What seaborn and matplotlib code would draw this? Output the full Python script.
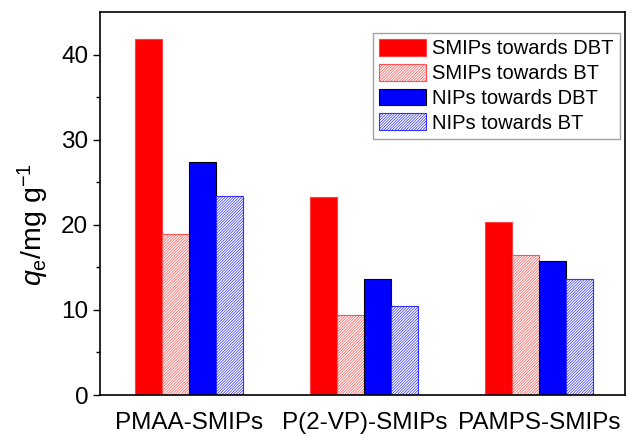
import matplotlib
matplotlib.use("Agg")
import matplotlib.pyplot as plt
import seaborn as sns
import pandas as pd
from matplotlib.patches import Patch

categories = ["PMAA-SMIPs", "P(2-VP)-SMIPs", "PAMPS-SMIPs"]
series_names = ["SMIPs towards DBT", "SMIPs towards BT", "NIPs towards DBT", "NIPs towards BT"]
smips_dbt = [41.8, 23.3, 20.3]
smips_bt = [18.9, 9.4, 16.5]
nips_dbt = [27.4, 13.6, 15.8]
nips_bt = [23.4, 10.4, 13.6]
y_ticks = [0, 10, 20, 30, 40]

rows = []
for name, vals in zip(series_names, [smips_dbt, smips_bt, nips_dbt, nips_bt]):
    for c, v in zip(categories, vals):
        rows.append({"cat": c, "series": name, "val": v})
df = pd.DataFrame(rows)

sns.set_theme(style="ticks")
plt.rcParams["font.family"] = ["Liberation Sans", "DejaVu Sans"]
plt.rcParams["mathtext.fontset"] = "custom"
plt.rcParams["mathtext.rm"] = "Liberation Sans"
plt.rcParams["mathtext.it"] = "Liberation Sans:italic"
plt.rcParams["hatch.linewidth"] = 0.5
plt.rcParams["text.color"] = "black"
plt.rcParams["axes.labelcolor"] = "black"
plt.rcParams["xtick.color"] = "black"
plt.rcParams["ytick.color"] = "black"

fig = plt.figure(figsize=(6.32, 4.36), dpi=100)
ax = fig.add_axes([100/632, 1-395/436, 525/632, 383/436])

styles = [
    dict(face="#ff0000", edge="#ff4040", hatch=None),
    dict(face="white", edge="#ff5050", hatch="/" * 12),
    dict(face="#0000ff", edge="black", hatch=None),
    dict(face="white", edge="#3030ff", hatch="/" * 12),
]

sns.barplot(data=df, x="cat", y="val", hue="series", order=categories,
            hue_order=series_names, width=0.617, ax=ax, legend=False,
            errorbar=None, saturation=1, gap=0)

for cont, st in zip(ax.containers, styles):
    for p in cont:
        p.set_facecolor(st["face"])
        p.set_edgecolor(st["edge"])
        p.set_linewidth(0.8)
        if st["hatch"]:
            p.set_hatch(st["hatch"])

ax.set_xlim(-0.51, 2.49)
ax.set_ylim(0, 45)
ax.set_yticks(y_ticks)
ax.set_yticks([5, 15, 25, 35], minor=True)
ax.tick_params(axis="y", which="major", direction="out", length=5, width=1, labelsize=17.5, color="black", labelcolor="black")
ax.tick_params(axis="y", which="minor", direction="out", length=3, width=1, color="black")
ax.tick_params(axis="x", length=0, labelsize=17.5, pad=12, labelcolor="black")
for s in ax.spines.values():
    s.set_visible(True)
    s.set_color("black")
    s.set_linewidth(1.2)
ax.set_xlabel("")
ax.set_ylabel(r"$q_\mathregular{e}$/mg g$^{-1}$", fontsize=20.5, color="black")
ax.yaxis.set_label_coords(-0.093, 0.445)

handles = [Patch(facecolor=st["face"], edgecolor=st["edge"], hatch=st["hatch"], linewidth=0.8)
           for st in styles]
leg = ax.legend(handles, series_names, loc="upper right", fontsize=14.5, frameon=True,
                fancybox=False, edgecolor="#888888", handlelength=2.35, handleheight=0.9,
                handletextpad=0.3, labelspacing=0.27, borderpad=0.3, borderaxespad=0,
                bbox_to_anchor=(0.99, 0.945))
leg.get_frame().set_linewidth(1.0)
for t in leg.get_texts():
    t.set_color("black")

fig.savefig("out.png", dpi=100)
